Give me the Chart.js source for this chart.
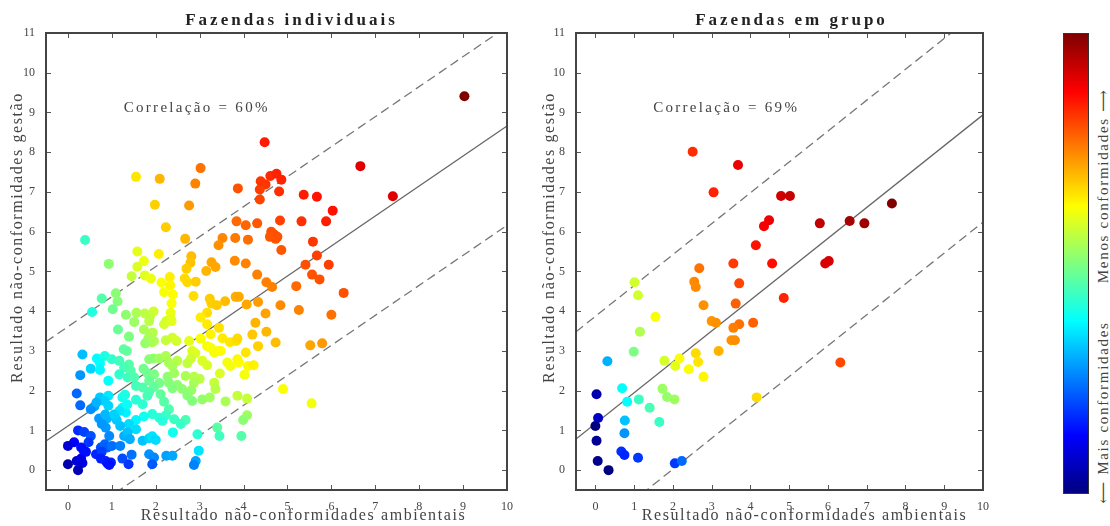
<!DOCTYPE html>
<html>
<head>
<meta charset="utf-8">
<script src="https://cdn.jsdelivr.net/npm/chart.js@4.4.1/dist/chart.umd.min.js"></script>
<style>
    body { margin: 0; background: #fff; }
    #wrap { position: relative; width: 1110px; height: 526px; }
    .box { position: absolute; }
    #colorbar {
        position: absolute; left: 1063px; top: 33px; width: 24px; height: 459px;
        border: 1px solid #333;
        background: linear-gradient(to top, #000080 0%, #0000ff 12.5%, #00ffff 37.5%, #ffff00 62.5%, #ff0000 87.5%, #800000 100%);
    }
    #cblabel {
        position: absolute; left: 1103px; top: 296px; white-space: nowrap;
        transform: translate(-50%, -50%) rotate(-90deg);
        font: 15px "Liberation Serif", "DejaVu Serif", serif; letter-spacing: 1.7px; color: #444;
    }
</style>
</head>
<body>
<div id="wrap">
    <div class="box" style="left:0;top:0;width:520px;height:526px"><canvas id="indiv-chart"></canvas></div>
    <div class="box" style="left:525px;top:0;width:475px;height:526px"><canvas id="grupo-chart"></canvas></div>
    <div id="colorbar"></div>
    <div id="cblabel">&#x27F5; Mais conformidades &nbsp;&nbsp;&nbsp;&nbsp;&nbsp; Menos conformidades &#x27F6;</div>
</div>
<script>
//---------------------------------------------------------------------------------------------
// - DATA -------------------------------------------------------------------------------------
//---------------------------------------------------------------------------------------------

var xTicks = [0, 1, 2, 3, 4, 5, 6, 7, 8, 9, 10];
var yTicks = [0, 1, 2, 3, 4, 5, 6, 7, 8, 9, 10, 11];

// [ambientais, gestao]
var indivPoints = [
    [9.03, 9.41], [4.48, 8.25], [6.66, 7.65], [3.02, 7.6], [1.55, 7.38], [2.09, 7.33], [2.9, 7.21], [3.87, 7.09],
    [7.4, 6.89], [4.39, 7.27], [4.5, 7.19], [4.61, 7.4], [4.75, 7.46], [4.86, 7.31], [4.37, 7.06], [4.81, 7.01],
    [4.37, 6.81], [1.98, 6.68], [2.76, 6.66], [5.37, 6.93], [5.67, 6.88], [6.03, 6.53], [2.23, 6.11], [3.84, 6.26],
    [4.05, 6.16], [4.31, 6.21], [4.83, 6.28], [5.32, 6.26], [5.88, 6.26], [0.39, 5.79], [2.67, 5.82], [3.52, 5.84],
    [3.43, 5.66], [3.81, 5.84], [4.1, 5.8], [4.63, 6.0], [4.7, 5.93], [4.77, 5.87], [4.6, 5.87], [4.73, 5.82],
    [5.58, 5.75], [4.86, 5.54], [1.58, 5.5], [2.07, 5.44], [2.81, 5.38], [2.79, 5.22], [5.67, 5.4], [1.73, 5.26],
    [0.93, 5.19], [1.58, 5.12], [2.7, 5.07], [3.27, 5.23], [3.36, 5.11], [3.15, 5.01], [3.8, 5.27], [4.05, 5.2],
    [5.41, 5.17], [5.94, 5.17], [1.45, 4.88], [1.75, 4.9], [1.89, 4.82], [2.32, 4.86], [2.66, 4.82], [2.72, 4.73],
    [2.91, 4.74], [2.13, 4.72], [2.33, 4.65], [4.31, 4.92], [5.56, 4.92], [5.73, 4.8], [4.52, 4.73], [4.65, 4.61],
    [5.2, 4.63], [2.19, 4.48], [2.39, 4.42], [2.86, 4.38], [3.23, 4.31], [6.28, 4.46], [1.09, 4.45], [1.13, 4.25],
    [0.77, 4.32], [3.82, 4.36], [3.89, 4.36], [3.58, 4.25], [3.27, 4.19], [3.39, 4.15], [2.36, 4.2], [4.33, 4.23],
    [4.07, 4.17], [4.84, 4.15], [5.26, 4.03], [1.02, 4.05], [0.55, 3.98], [1.32, 3.91], [1.56, 3.96], [1.75, 3.94],
    [1.95, 3.99], [1.87, 3.88], [2.34, 3.96], [2.34, 3.81], [3.17, 3.96], [3.02, 3.84], [6.0, 3.91], [4.5, 3.94],
    [1.51, 3.73], [1.85, 3.75], [2.24, 3.75], [2.19, 3.67], [2.36, 3.75], [3.17, 3.67], [4.27, 3.71], [1.14, 3.54],
    [1.73, 3.54], [1.86, 3.43], [1.93, 3.46], [3.44, 3.58], [4.52, 3.48], [4.2, 3.41], [3.25, 3.42], [1.39, 3.36],
    [1.83, 3.31], [1.92, 3.22], [1.76, 3.19], [1.96, 3.25], [2.23, 3.27], [2.38, 3.33], [2.47, 3.25], [2.76, 3.25],
    [3.02, 3.31], [3.52, 3.32], [3.69, 3.22], [3.83, 3.25], [3.86, 3.31], [4.73, 3.21], [5.52, 3.14], [5.79, 3.19],
    [4.33, 3.12], [3.17, 3.12], [1.34, 3.0], [1.27, 3.04], [0.33, 2.91], [2.83, 3.0], [2.9, 2.94], [3.25, 3.08],
    [3.42, 3.0], [3.33, 2.96], [4.05, 2.96], [3.48, 3.0], [0.66, 2.81], [0.84, 2.87], [1.0, 2.79], [1.17, 2.75],
    [0.73, 2.69], [0.52, 2.55], [0.73, 2.52], [1.39, 2.66], [1.28, 2.58], [1.43, 2.5], [1.17, 2.41], [1.36, 2.33],
    [2.3, 2.7], [2.49, 2.75], [2.8, 2.81], [2.38, 2.62], [2.72, 2.69], [3.06, 2.75], [3.17, 2.64], [3.63, 2.71],
    [3.7, 2.62], [3.86, 2.79], [3.89, 2.71], [4.1, 2.62], [4.23, 2.64], [1.95, 2.81], [1.85, 2.79], [2.08, 2.81],
    [2.23, 2.87], [0.92, 2.25], [0.28, 2.39], [0.2, 1.93], [1.72, 2.55], [1.81, 2.44], [1.51, 2.33], [1.96, 2.41],
    [2.27, 2.35], [2.42, 2.44], [2.68, 2.37], [2.87, 2.35], [3.0, 2.3], [3.46, 2.43], [3.33, 2.2], [4.02, 2.4],
    [4.9, 2.04], [1.55, 2.12], [1.85, 2.25], [2.08, 2.19], [2.3, 2.2], [2.49, 2.14], [2.87, 2.2], [1.7, 2.08],
    [1.96, 2.09], [2.38, 2.06], [2.6, 2.04], [2.81, 2.01], [1.85, 1.97], [2.11, 1.91], [3.06, 1.78], [3.23, 1.83],
    [3.36, 2.04], [3.59, 1.73], [3.86, 1.87], [4.08, 1.8], [5.55, 1.68], [2.72, 1.88], [2.83, 1.74], [1.81, 1.87],
    [0.73, 1.83], [0.92, 1.87], [0.83, 1.74], [0.6, 1.6], [0.28, 1.63], [1.24, 1.83], [1.55, 1.77], [2.19, 1.72],
    [1.7, 1.66], [0.92, 1.62], [1.24, 1.57], [1.32, 1.45], [1.17, 1.49], [1.35, 1.65], [1.3, 1.9], [2.3, 1.53],
    [2.23, 1.38], [1.92, 1.41], [1.73, 1.35], [2.08, 1.32], [2.42, 1.28], [2.68, 1.26], [2.57, 1.16], [2.15, 1.24],
    [1.55, 1.26], [1.39, 1.16], [1.11, 1.26], [0.71, 1.3], [0.89, 1.3], [0.77, 1.16], [0.86, 1.07], [1.19, 1.11],
    [0.85, 1.4], [1.05, 1.4], [0.52, 1.53], [0.65, 1.7], [1.55, 1.03], [1.28, 0.86], [1.36, 0.95], [1.41, 0.78],
    [1.7, 0.74], [1.85, 0.8], [1.92, 0.85], [2.0, 0.76], [2.39, 0.95], [2.95, 0.9], [3.4, 1.07], [3.45, 0.86],
    [3.95, 0.86], [4.08, 1.38], [3.99, 1.26], [0.94, 0.86], [0.23, 1.0], [0.37, 0.96], [0.52, 0.86], [0.47, 0.7],
    [0.14, 0.7], [0.0, 0.61], [0.3, 0.57], [0.41, 0.46], [0.75, 0.57], [0.84, 0.65], [0.9, 0.57], [1.0, 0.61],
    [1.19, 0.61], [0.64, 0.4], [0.77, 0.46], [0.75, 0.29], [0.86, 0.23], [0.98, 0.19], [0.9, 0.17], [0.94, 0.13],
    [1.24, 0.29], [1.45, 0.39], [1.38, 0.15], [0.0, 0.15], [0.2, 0.23], [0.3, 0.29], [0.33, 0.18], [0.23, 0.0],
    [0.36, 0.49], [1.85, 0.4], [1.96, 0.32], [1.92, 0.15], [2.24, 0.36], [2.38, 0.36], [2.98, 0.49], [2.91, 0.23],
    [2.87, 0.13]
];

var grupoPoints = [
    [2.51, 8.01], [3.68, 7.68], [3.05, 6.99], [4.79, 6.9], [5.02, 6.9], [7.65, 6.71], [4.48, 6.29], [4.35, 6.14],
    [5.79, 6.21], [6.56, 6.27], [6.94, 6.21], [4.14, 5.66], [2.68, 5.08], [3.56, 5.2], [4.56, 5.2], [5.93, 5.2],
    [6.02, 5.26], [1.01, 4.73], [2.55, 4.74], [2.59, 4.61], [3.71, 4.7], [4.86, 4.33], [1.1, 4.4], [3.62, 4.19],
    [2.79, 4.15], [1.55, 3.86], [3.0, 3.75], [3.11, 3.71], [4.07, 3.71], [3.71, 3.67], [3.56, 3.58], [1.15, 3.48],
    [3.51, 3.27], [3.6, 3.27], [0.99, 2.98], [3.18, 3.0], [2.59, 2.94], [2.65, 2.72], [0.31, 2.74], [1.78, 2.75],
    [2.17, 2.81], [2.06, 2.62], [2.41, 2.54], [2.79, 2.35], [6.32, 2.71], [0.69, 2.06], [1.73, 2.05], [0.03, 1.91],
    [0.82, 1.72], [1.12, 1.78], [1.85, 1.84], [2.04, 1.78], [4.16, 1.83], [1.4, 1.57], [0.07, 1.31], [0.0, 1.11],
    [0.76, 1.25], [1.65, 1.21], [0.75, 0.93], [0.03, 0.74], [0.67, 0.47], [0.75, 0.38], [1.1, 0.31], [0.06, 0.23],
    [0.34, 0.0], [2.05, 0.17], [2.23, 0.23]
];

// regression line and band: [slope, intercept, band]
var indivFit = [0.755, 1.11, 2.5];
var grupoFit = [0.777, 1.17, 2.7];

//---------------------------------------------------------------------------------------------
// - HELPERS ----------------------------------------------------------------------------------
//---------------------------------------------------------------------------------------------

function clamp(v) { return Math.max(0, Math.min(1, v)); }

function jet(t) {
    var r = clamp(1.5 - Math.abs(4 * t - 3));
    var g = clamp(1.5 - Math.abs(4 * t - 2));
    var b = clamp(1.5 - Math.abs(4 * t - 1));
    return 'rgb(' + Math.round(r * 255) + ',' + Math.round(g * 255) + ',' + Math.round(b * 255) + ')';
}

// colour follows the product of both results, on a log-like scale
function pointColors(points, k, off) {
    var prods = points.map(function (p) { return Math.max(0, (p[0] + off) * (p[1] + off)); });
    var pmax = Math.max.apply(null, prods);
    return prods.map(function (prod) {
        return jet(Math.log(1 + k * prod) / Math.log(1 + k * pmax));
    });
}

function fitLine(fit, offset) {
    return [-0.5, 10].map(function (x) { return { x: x, y: fit[0] * x + fit[1] + offset }; });
}

function spacedText(ctx, text, x, y, font, color, spacing, angle) {
    ctx.save();
    ctx.font = font;
    ctx.fillStyle = color;
    ctx.letterSpacing = spacing + 'px';
    ctx.textAlign = 'center';
    ctx.textBaseline = 'middle';
    ctx.translate(x, y);
    if (angle) ctx.rotate(angle);
    ctx.fillText(text, 0, 0);
    ctx.restore();
}

var frame_plugin = {
    id: 'frame',
    afterDraw: function (chart, args, o) {
        var ctx = chart.ctx, ca = chart.chartArea;
        var xs = chart.scales.x, ys = chart.scales.y;
        ctx.save();
        ctx.strokeStyle = '#555';
        ctx.lineWidth = 1;
        ctx.beginPath();
        xTicks.forEach(function (v) {
            var px = Math.round(xs.getPixelForValue(v)) + 0.5;
            ctx.moveTo(px, ca.bottom); ctx.lineTo(px, ca.bottom - 5);
            ctx.moveTo(px, ca.top); ctx.lineTo(px, ca.top + 5);
        });
        yTicks.forEach(function (v) {
            var py = Math.round(ys.getPixelForValue(v)) + 0.5;
            ctx.moveTo(ca.left, py); ctx.lineTo(ca.left + 5, py);
            ctx.moveTo(ca.right, py); ctx.lineTo(ca.right - 5, py);
        });
        ctx.stroke();
        ctx.lineWidth = 2;
        ctx.strokeStyle = '#444';
        ctx.strokeRect(ca.left, ca.top, ca.right - ca.left, ca.bottom - ca.top);
        ctx.restore();

        var cx = (ca.left + ca.right) / 2, cy = (ca.top + ca.bottom) / 2;
        spacedText(ctx, o.title, cx + o.titleDx, 21, 'bold 17px "Liberation Serif"', '#222', 3);
        spacedText(ctx, 'Resultado não-conformidades ambientais', cx + o.xTitleDx, 516, '16px "Liberation Serif"', '#444', 1.6);
        spacedText(ctx, 'Resultado não-conformidades gestão', o.yTitleX, cy - 24, '16px "Liberation Serif"', '#444', 1.6, -Math.PI / 2);

        ctx.save();
        ctx.font = '15px "Liberation Serif"';
        ctx.letterSpacing = '2.3px';
        ctx.fillStyle = '#444';
        ctx.textBaseline = 'middle';
        ctx.fillText(o.corr, xs.getPixelForValue(o.corrX), ys.getPixelForValue(9.1));
        ctx.restore();
    }
};

function buildChart(id, points, fit, k, off, yWidth, padRight, frameOpts) {
    var data = {
        datasets: [{
            type: 'scatter',
            data: points.map(function (p) { return { x: p[0], y: p[1] }; }),
            pointBackgroundColor: pointColors(points, k, off),
            pointBorderWidth: 0,
            pointRadius: 5
        }, {
            type: 'line',
            data: fitLine(fit, 0),
            borderColor: '#666',
            borderWidth: 1.3,
            pointRadius: 0
        }, {
            type: 'line',
            data: fitLine(fit, fit[2]),
            borderColor: '#777',
            borderWidth: 1.3,
            borderDash: [9, 5],
            pointRadius: 0
        }, {
            type: 'line',
            data: fitLine(fit, -fit[2]),
            borderColor: '#777',
            borderWidth: 1.3,
            borderDash: [9, 5],
            pointRadius: 0
        }]
    };

    var config = {
        type: 'scatter',
        data: data,
        options: {
            responsive: true,
            maintainAspectRatio: false,
            animation: false,
            events: [],
            layout: { padding: { top: 33, right: padRight, left: 0, bottom: 0 } },
            plugins: {
                legend: { display: false },
                tooltip: { enabled: false },
                frame: frameOpts
            },
            scales: {
                x: {
                    type: 'linear', min: -0.5, max: 10,
                    grid: { display: false },
                    border: { display: false },
                    afterBuildTicks: function (s) { s.ticks = xTicks.map(function (v) { return { value: v }; }); },
                    afterFit: function (s) { s.height = 36; },
                    ticks: { padding: 2, color: '#444', font: { family: 'Liberation Serif', size: 12 } }
                },
                y: {
                    type: 'linear', min: -0.5, max: 11,
                    grid: { display: false },
                    border: { display: false },
                    afterBuildTicks: function (s) { s.ticks = yTicks.map(function (v) { return { value: v }; }); },
                    afterFit: function (s) { s.width = yWidth; },
                    ticks: { padding: 3, color: '#444', font: { family: 'Liberation Serif', size: 12 } }
                }
            }
        },
        plugins: [frame_plugin]
    };

    new Chart(document.getElementById(id).getContext('2d'), config);
}

//---------------------------------------------------------------------------------------------
// - CHARTS -----------------------------------------------------------------------------------
//---------------------------------------------------------------------------------------------

buildChart('indiv-chart', indivPoints, indivFit, 2, 0.3, 46, 13, {
    title: 'Fazendas individuais', titleDx: 15, xTitleDx: 27, yTitleX: 18,
    corr: 'Correlação = 60%', corrX: 1.27
});

buildChart('grupo-chart', grupoPoints, grupoFit, 5, 0, 51, 17, {
    title: 'Fazendas em grupo', titleDx: 12, xTitleDx: 25, yTitleX: 25,
    corr: 'Correlação = 69%', corrX: 1.49
});
</script>
</body>
</html>
